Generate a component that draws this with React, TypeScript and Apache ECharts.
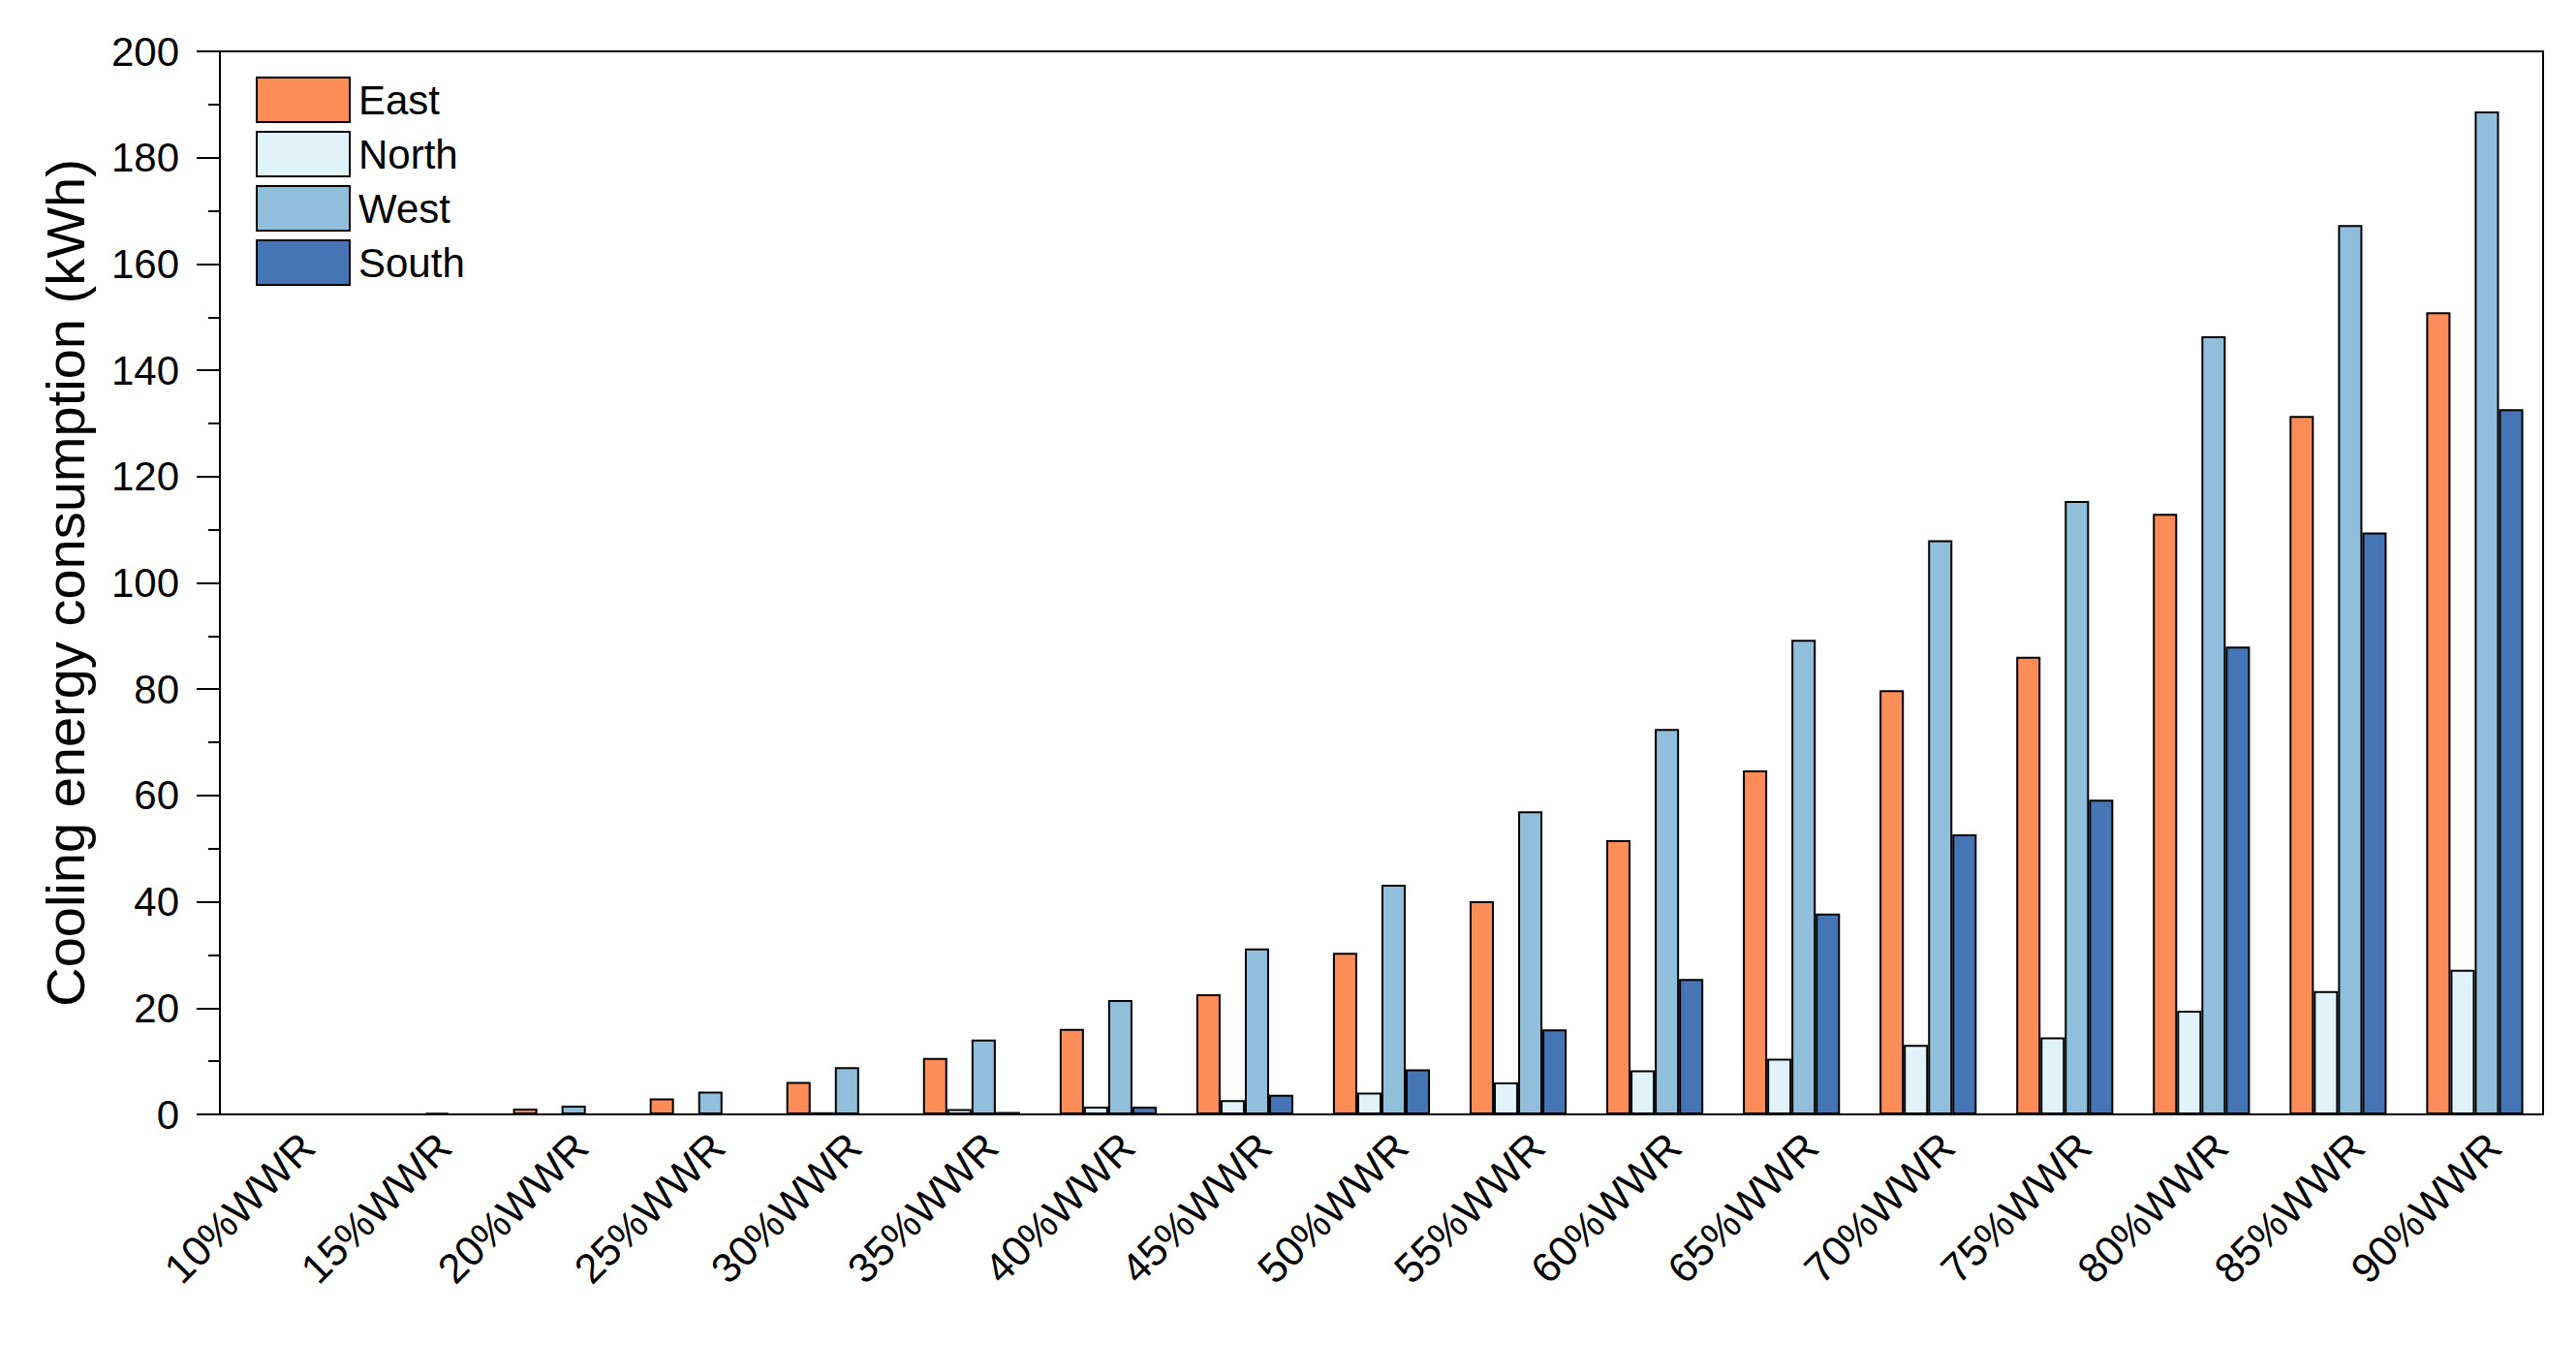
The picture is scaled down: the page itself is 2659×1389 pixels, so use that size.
import React, { useEffect, useRef } from "react";
import * as echarts from "echarts";

const categories = [
  "10%WWR", "15%WWR", "20%WWR", "25%WWR", "30%WWR", "35%WWR", "40%WWR", "45%WWR", "50%WWR",
  "55%WWR", "60%WWR", "65%WWR", "70%WWR", "75%WWR", "80%WWR", "85%WWR", "90%WWR",
];
const eastValues = [0, 0, 1.1, 3.0, 6.1, 10.6, 16.1, 22.6, 30.4, 40.1, 51.6, 64.7, 79.8, 86.1, 113.0, 131.4, 150.9];
const northValues = [0, 0, 0, 0, 0.4, 1.0, 1.45, 2.7, 4.1, 6.0, 8.3, 10.5, 13.1, 14.5, 19.5, 23.2, 27.2];
const westValues = [0, 0.3, 1.65, 4.3, 8.9, 14.1, 21.5, 31.2, 43.2, 57.0, 72.5, 89.3, 108.0, 115.4, 146.4, 167.3, 188.7];
const southValues = [0, 0, 0, 0, 0, 0.45, 1.45, 3.7, 8.5, 16.0, 25.5, 37.8, 52.7, 59.2, 88.0, 109.5, 132.7];

const seriesNames = ["East", "North", "West", "South"];
const seriesColors = ["#FC8D59", "#E0F3F8", "#91BFDB", "#4575B4"];

const FONT = "'Liberation Sans', Arial, sans-serif";

export default function App() {
  const ref = useRef<HTMLDivElement>(null);
  useEffect(() => {
    if (!ref.current) return;
    const chart = echarts.init(ref.current, undefined, { renderer: "svg" });
    const data = [eastValues, northValues, westValues, southValues];
    chart.setOption({
      animation: false,
      backgroundColor: "#ffffff",
      textStyle: { fontFamily: FONT, color: "#000" },
      grid: {
        left: 227,
        top: 53,
        right: 34,
        bottom: 239,
        show: true,
        borderColor: "#000",
        borderWidth: 2,
        backgroundColor: "transparent",
      },
      legend: {
        orient: "vertical",
        left: 259,
        top: 74,
        itemWidth: 96,
        itemHeight: 46,
        itemGap: 8,
        icon: "rect",
        textStyle: { fontSize: 42, color: "#000", fontFamily: FONT, padding: [0, 0, 0, 4] },
        data: seriesNames,
      },
      xAxis: {
        type: "category",
        data: categories,
        axisLine: { show: true, lineStyle: { color: "#000", width: 2 } },
        axisTick: { show: false },
        axisLabel: {
          rotate: 45,
          interval: 0,
          fontSize: 43,
          color: "#000",
          fontFamily: FONT,
          margin: 46,
          padding: [0, -28, 0, 0],
        },
        splitLine: { show: false },
      },
      yAxis: {
        type: "value",
        min: 0,
        max: 200,
        interval: 20,
        name: "Cooling energy consumption (kWh)",
        nameLocation: "middle",
        nameGap: 132,
        nameTextStyle: { fontSize: 56, color: "#000", fontFamily: FONT },
        axisLine: { show: true, lineStyle: { color: "#000", width: 2 } },
        axisTick: { show: true, inside: false, length: 24, lineStyle: { color: "#000", width: 2 } },
        minorTick: { show: true, splitNumber: 2, length: 12, lineStyle: { color: "#000", width: 2 } },
        axisLabel: { fontSize: 42, color: "#000", fontFamily: FONT, margin: 42 },
        splitLine: { show: false },
        minorSplitLine: { show: false },
      },
      series: seriesNames.map((name, i) => ({
        name,
        type: "bar",
        data: data[i],
        barGap: "0%",
        barCategoryGap: "29%",
        itemStyle: { color: seriesColors[i], borderColor: "#000", borderWidth: 2 },
      })),
    });
    return () => chart.dispose();
  }, []);
  return (
    <div
      ref={ref}
      style={{ position: "fixed", left: 0, top: 0, width: 2659, height: 1389, background: "#fff" }}
    />
  );
}
